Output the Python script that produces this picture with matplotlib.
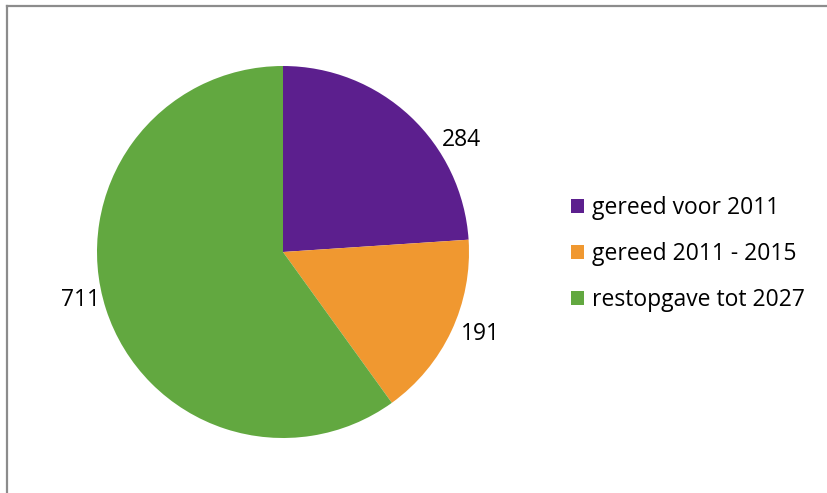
import matplotlib
matplotlib.use("Agg")
import matplotlib.pyplot as plt
from matplotlib.lines import Line2D
from matplotlib.patches import Patch

categories = ["gereed voor 2011", "gereed 2011 - 2015", "restopgave tot 2027"]
values = [284, 191, 711]
colors = ["#5C1F8E", "#F09830", "#62A840"]
label_pos = [(0.96, 0.60), (1.06, -0.44), (-1.09, -0.26)]

W, H = 828, 493
fig = plt.figure(figsize=(W / 100, H / 100), dpi=100)
plt.rcParams["font.family"] = ["Open Sans", "DejaVu Sans"]

cx, cy, r = 283, 252, 186
ax = fig.add_axes([(cx - r) / W, (H - cy - r) / H, 2 * r / W, 2 * r / H])
wedges, _ = ax.pie(values, colors=colors, startangle=90, counterclock=False,
                   radius=1, wedgeprops=dict(linewidth=0))
ax.set_xlim(-1, 1)
ax.set_ylim(-1, 1)
ax.set_aspect("equal")
ax.axis("off")

for v, (x, y) in zip(values, label_pos):
    ax.text(x, y, str(v), ha="center", va="center", fontsize=16.5, color="#000000",
            clip_on=False)

handles = [Patch(facecolor=c, edgecolor="none") for c in colors]
fig.legend(handles, categories, loc="center left", bbox_to_anchor=(571 / W, 1 - 254 / H),
           frameon=False, fontsize=16.5, handlelength=0.55, handleheight=0.55,
           handletextpad=0.38, labelspacing=0.95, borderpad=0, borderaxespad=0)

# chart frame (right/bottom edges fall outside the picture)
fig.add_artist(Line2D([7 / W, 1], [1 - 6 / H, 1 - 6 / H], color="#8C8C8C", lw=1.6))
fig.add_artist(Line2D([7 / W, 7 / W], [0, 1 - 6 / H], color="#8C8C8C", lw=1.6))

fig.savefig("out.png", dpi=100)
